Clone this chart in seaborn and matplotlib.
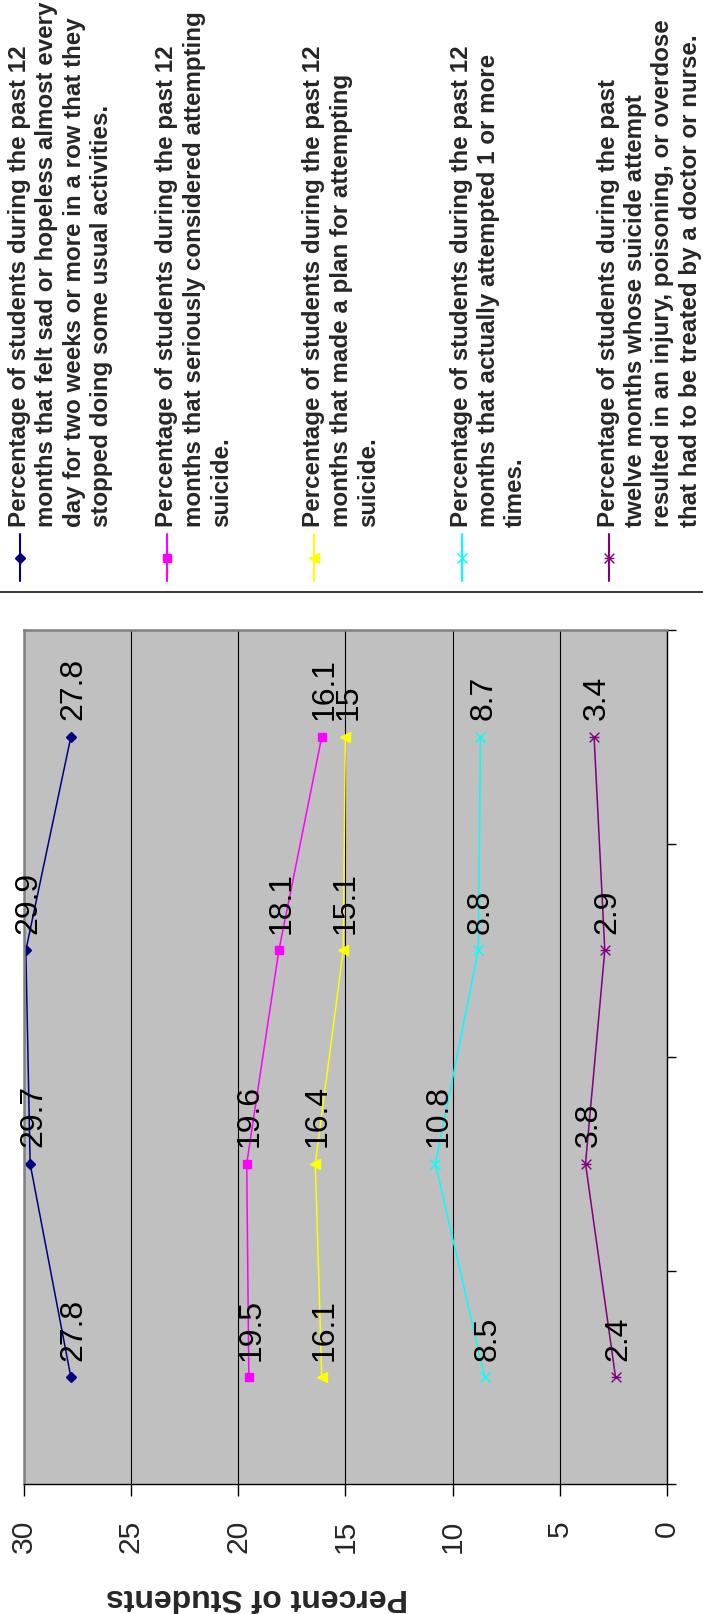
import numpy as np
import pandas as pd
import matplotlib
matplotlib.use("Agg")
import matplotlib.pyplot as plt
from matplotlib.path import Path
import seaborn as sns

# Survey rounds, oldest first (drawn bottom to top)
rounds = [1, 2, 3, 4]

# Percent of students, one list per indicator
sad_hopeless = [27.8, 29.7, 29.9, 27.8]
considered_suicide = [19.5, 19.6, 18.1, 16.1]
made_plan = [16.1, 16.4, 15.1, 15.0]
attempted = [8.5, 10.8, 8.8, 8.7]
attempt_injury = [2.4, 3.8, 2.9, 3.4]

series_labels = [
    "Percentage of students during the past 12\nmonths that felt sad or hopeless almost every\n"
    "day for two weeks or more in a row that they\nstopped doing some usual activities.",
    "Percentage of students during the past 12\nmonths that seriously considered attempting\nsuicide.",
    "Percentage of students during the past 12\nmonths that made a plan for attempting\nsuicide.",
    "Percentage of students during the past 12\nmonths that actually attempted 1 or more\ntimes.",
    "Percentage of students during the past\ntwelve months whose suicide attempt\n"
    "resulted in an injury, poisoning, or overdose\nthat had to be treated by a doctor or nurse.",
]

value_ticks = [0, 5, 10, 15, 20, 25, 30]
value_axis_title = "Percent of Students"

sns.set_style("white")
plt.rcParams["font.family"] = ["Liberation Sans", "DejaVu Sans"]

W, H = 703, 1615
fig = plt.figure(figsize=(W / 100, H / 100), dpi=100)

# Excel-style asterisk: an X crossed by a bar
star_path = Path(
    [(-1, -1), (1, 1), (-1, 1), (1, -1), (-1, 0), (1, 0)],
    [Path.MOVETO, Path.LINETO, Path.MOVETO, Path.LINETO, Path.MOVETO, Path.LINETO],
)

all_series = [sad_hopeless, considered_suicide, made_plan, attempted, attempt_injury]
colors = ["#000080", "#FF00FF", "#FFFF00", "#00FFFF", "#800080"]
markers = ["D", "s", "<", "x", star_path]
msizes = [5.6, 6.4, 7.4, 7.0, 7.0]

frames = []
for label, vals in zip(series_labels, all_series):
    frames.append(pd.DataFrame({"round": rounds, "percent": vals, "series": label}))
df = pd.concat(frames, ignore_index=True)

# plot area
x0, x1, y0, y1 = 23.7, 667.0, 631.0, 1485.0
ax = fig.add_axes([x0 / W, 1 - y1 / H, (x1 - x0) / W, (y1 - y0) / H])
ax.set_facecolor("#C0C0C0")

for (label, color, mk, ms) in zip(series_labels, colors, markers, msizes):
    sub = df[df["series"] == label]
    sns.lineplot(
        data=sub, x="percent", y="round", orient="y", sort=False,
        estimator=None, errorbar=None, color=color, marker=mk,
        markersize=ms, markeredgecolor=color, markerfacecolor=color,
        markeredgewidth=1.0, linewidth=1.1, ax=ax, legend=False,
    )
    for v, r in zip(sub["percent"], sub["round"]):
        ax.annotate(f"{v:g}", (v, r), xytext=(2, 12.5), textcoords="offset points",
                    rotation=90, ha="center", va="bottom", fontsize=23, color="black")

ax.set_xlim(30, 0)
ax.set_ylim(0.5, 4.5)
ax.set_xticks(value_ticks)
ax.set_xticklabels([str(t) for t in value_ticks], rotation=90)
ax.set_yticks(np.arange(0.5, 4.6, 1.0))
ax.set_yticklabels([])
ax.yaxis.tick_right()
ax.tick_params(axis="x", length=8.6, width=1.0, pad=16.6, labelsize=21.6,
               color="black", direction="out", bottom=True)
ax.tick_params(axis="y", length=6.5, width=1.0, color="black", direction="out",
               right=True, left=False)
ax.set_xlabel("")
ax.set_ylabel("")
ax.grid(axis="x", color="black", linewidth=0.8)
ax.grid(axis="y", visible=False)
ax.set_axisbelow(True)
for side in ("top", "left"):
    ax.spines[side].set_color("#808080")
    ax.spines[side].set_linewidth(1.8)
for side in ("bottom", "right"):
    ax.spines[side].set_color("black")
    ax.spines[side].set_linewidth(1.0)

fig.text(257 / W, 1 - 1597 / H, value_axis_title, rotation=180, ha="center",
         va="center", fontsize=23, fontweight="bold")

# legend strip along the top, drawn in pixel coordinates
lax = fig.add_axes([0, 0, 1, 1], zorder=-1)
lax.set_xlim(0, W)
lax.set_ylim(H, 0)
lax.axis("off")
lax.plot([0, W], [593, 593], color="black", linewidth=1.1)
for i, (label, color, mk, ms) in enumerate(zip(series_labels, colors, markers, msizes)):
    lx = 20 + 147.2 * i
    lax.plot([lx, lx], [535, 582], color=color, linewidth=1.5)
    lax.plot([lx], [559], marker=mk, markersize=ms, color=color,
             markeredgecolor=color, markerfacecolor=color, markeredgewidth=1.0)
    lax.text(lx - 12, 527, label, rotation=90, ha="left", va="bottom",
             fontsize=17.4, fontweight="bold", linespacing=1.24)

fig.savefig("out.png", dpi=100)
